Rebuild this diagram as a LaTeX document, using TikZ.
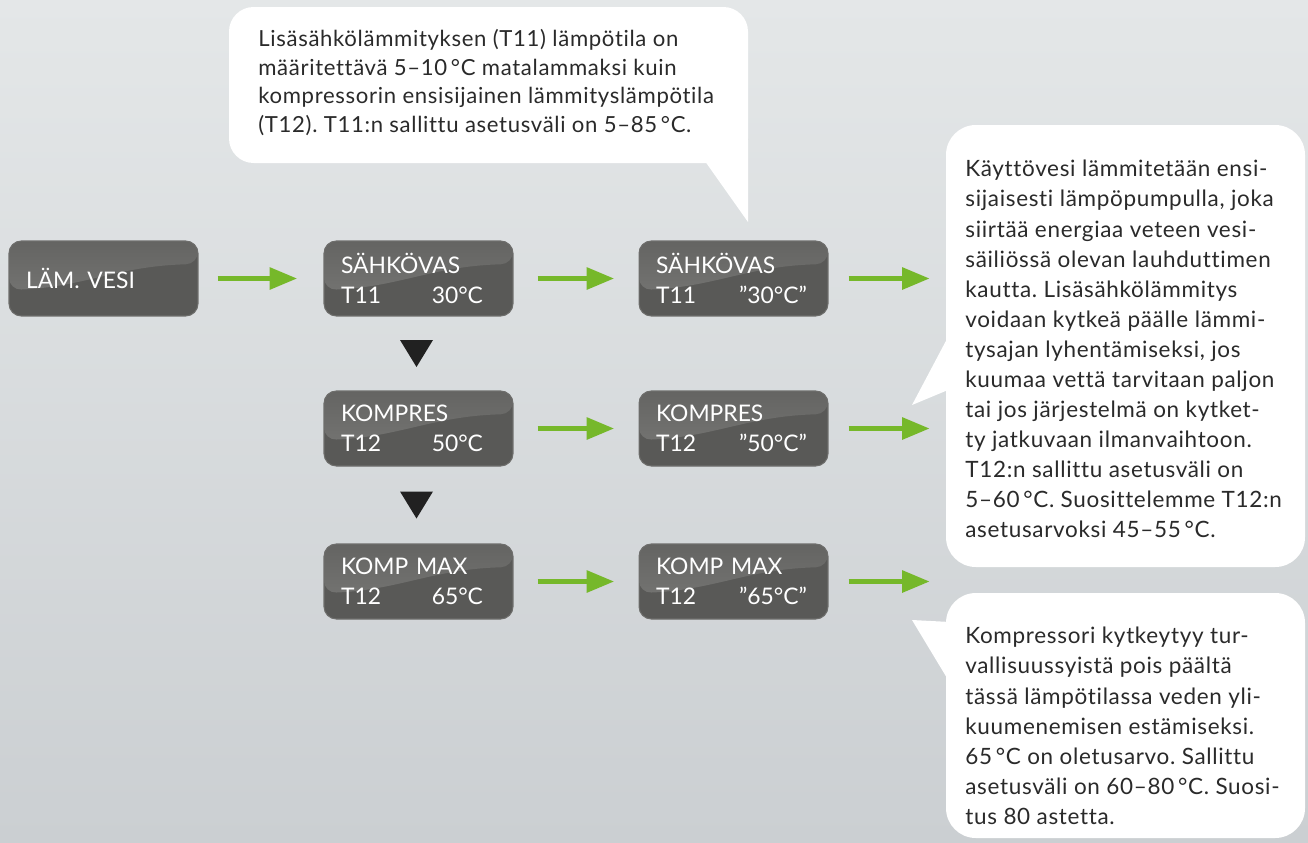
\documentclass[tikz,border=0pt]{standalone}
\usepackage{fontspec}
\setmainfont{Lato}
\newfontfamily\notefamily[LetterSpace=3,Ligatures={TeX,NoCommon}]{Lato}
\usetikzlibrary{arrows.meta,calc}
\definecolor{bgtop}{HTML}{E4E7E8}
\definecolor{bgbot}{HTML}{CBCFD2}
\definecolor{lcdgray}{HTML}{595957}
\definecolor{glosstop}{HTML}{646462}
\definecolor{glossbot}{HTML}{7A7A78}
\definecolor{lcdedge}{HTML}{6E6E6C}
\definecolor{flowgreen}{HTML}{76B82A}
\definecolor{textdark}{HTML}{2A2A2A}
\newcommand{\lcdfont}{\fontsize{13}{17}\selectfont}
\newcommand{\notefont}{\notefamily\fontsize{12.6}{16.3}\selectfont}
\newcommand{\sidefont}{\notefamily\fontsize{12.8}{17.1}\selectfont}
\frenchspacing

\tikzset{
  lcd/.style={rounded corners=7pt, draw=lcdedge, line width=0.6pt, fill=lcdgray,
    minimum width=3.78cm, minimum height=1.5cm, text width=3.10cm, inner xsep=0.34cm,
    align=left, text=white, font=\lcdfont,
    path picture={
      \fill[top color=glosstop, bottom color=glossbot]
        (path picture bounding box.north west) -- (path picture bounding box.north east)
        -- ([yshift=-0.46cm]path picture bounding box.north east)
        .. controls ([xshift=-1.6cm,yshift=-0.50cm]path picture bounding box.north east)
        and ([xshift=1.5cm,yshift=-0.92cm]path picture bounding box.north west)
        .. ([yshift=-0.98cm]path picture bounding box.north west) -- cycle;
    }},
  flow/.style={flowgreen, line width=3.4pt, -{Triangle[length=0.56cm,width=0.42cm]}},
  downmark/.style={fill=black!87},
  bubble/.style={fill=white},
  notetext/.style={anchor=north west, inner sep=0pt, align=left, text=textdark},
}

\begin{document}
\begin{tikzpicture}[x=0.02cm,y=-0.02cm]
    \useasboundingbox (0,0) rectangle (1308,842);
    \shade[top color=bgtop, bottom color=bgbot] (0,0) rectangle (1308,842);

    % display boxes
    \node[lcd] (lam) at (103.5,278.5) {LÄM. VESI};
    \node[lcd] (sah1) at (418.5,278.5) {SÄHKÖVAS\\T11\hfill 30°C\hspace*{0.26cm}};
    \node[lcd] (sah2) at (733.5,278.5) {SÄHKÖVAS\\T11\hfill ”30°C”\hspace*{0.08cm}};
    \node[lcd] (komp1) at (418.5,428.5) {KOMPRES\\T12\hfill 50°C\hspace*{0.26cm}};
    \node[lcd] (komp2) at (733.5,428.5) {KOMPRES\\T12\hfill ”50°C”\hspace*{0.08cm}};
    \node[lcd] (max1) at (418.5,581.5) {KOMP MAX\\T12\hfill 65°C\hspace*{0.26cm}};
    \node[lcd] (max2) at (733.5,581.5) {KOMP MAX\\T12\hfill ”65°C”\hspace*{0.08cm}};
    \coordinate (out1) at (930,278.5);
    \coordinate (out2) at (930,428.5);
    \coordinate (out3) at (930,581.5);

    % arrows
    \draw[flow, shorten <=0.38cm, shorten >=0.52cm] (lam) -- (sah1);
    \foreach \a/\b in {sah1/sah2,komp1/komp2,max1/max2} {\draw[flow, shorten <=0.48cm, shorten >=0.48cm] (\a) -- (\b);}
    \foreach \a/\b in {sah2/out1,komp2/out2,max2/out3} {\draw[flow, shorten <=0.40cm] (\a.east) -- (\b);}
    \foreach \a/\b in {sah1/komp1,komp1/max1} {\fill[downmark] ($(\a.south)!0.5!(\b.north)$) ++(-18.5,-13.5) -- ++(33,0) -- ++(-16.5,27) -- cycle;}

    % speech bubbles
    \fill[bubble, rounded corners=14pt] (229,7) rectangle (748,163);
    \fill[bubble] (690,140) -- (748,140) -- (748,222) -- cycle;
    \fill[bubble, rounded corners=17pt] (946,125) rectangle (1305,567);
    \fill[bubble] (948,337) -- (912,405) -- (948,390) -- cycle;
    \fill[bubble, rounded corners=17pt] (946,593) rectangle (1305,838);
    \fill[bubble] (950,622) -- (912,620) -- (950,683) -- cycle;

    \node[notetext, font=\notefont] (t11note) at (258,29) {Lisäsähkölämmityksen (T11) lämpötila on\\
      määritettävä 5–10\,°C matalammaksi kuin\\
      kompressorin ensisijainen lämmityslämpötila\\
      (T12). T11:n sallittu asetusväli on 5–85\,°C.};
    \node[notetext, font=\sidefont] (t12note) at (965,160) {Käyttövesi lämmitetään ensi-\\
      sijaisesti lämpöpumpulla, joka\\
      siirtää energiaa veteen vesi-\\
      säiliössä olevan lauhduttimen\\
      kautta. Lisäsähkölämmitys\\
      voidaan kytkeä päälle lämmi-\\
      tysajan lyhentämiseksi, jos\\
      kuumaa vettä tarvitaan paljon\\
      tai jos järjestelmä on kytket-\\
      ty jatkuvaan ilmanvaihtoon.\\
      T12:n sallittu asetusväli on\\
      5–60\,°C. Suosittelemme T12:n\\
      asetusarvoksi 45–55\,°C.};
    \node[notetext, font=\sidefont] (maxnote) at (965,627) {Kompressori kytkeytyy tur-\\
      vallisuussyistä pois päältä\\
      tässä lämpötilassa veden yli-\\
      kuumenemisen estämiseksi.\\
      65\,°C on oletusarvo. Sallittu\\
      asetusväli on 60–80\,°C. Suosi-\\
      tus 80 astetta.};
\end{tikzpicture}
\end{document}
